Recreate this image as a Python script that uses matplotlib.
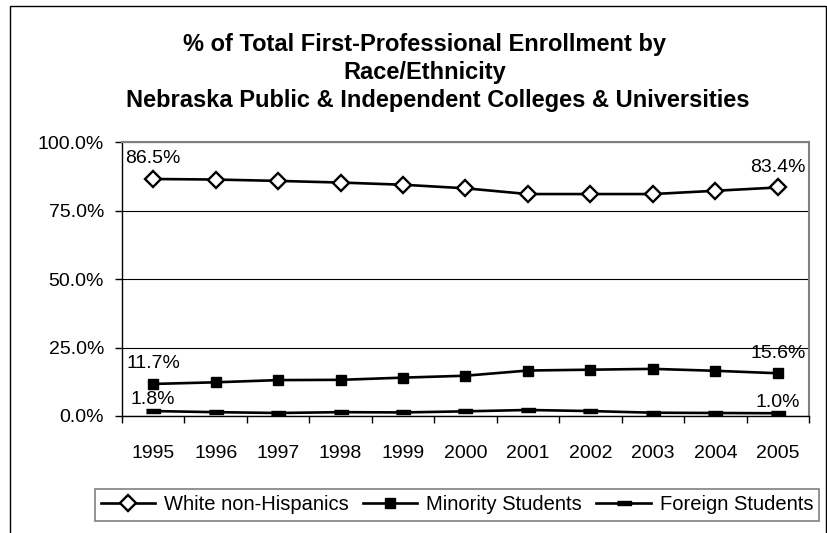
import matplotlib
matplotlib.use("Agg")
import matplotlib.pyplot as plt
from matplotlib.patches import Rectangle

plt.rcParams["font.family"] = ["Liberation Sans", "DejaVu Sans"]

years = ["1995", "1996", "1997", "1998", "1999", "2000",
         "2001", "2002", "2003", "2004", "2005"]
white = [86.5, 86.3, 85.8, 85.2, 84.4, 83.1, 81.0, 81.0, 81.0, 82.2, 83.4]
minority = [11.7, 12.3, 13.1, 13.2, 14.0, 14.7, 16.6, 16.9, 17.2, 16.5, 15.6]
foreign = [1.8, 1.4, 1.1, 1.4, 1.3, 1.7, 2.2, 1.8, 1.2, 1.1, 1.0]

title_lines = ["% of Total First-Professional Enrollment by",
               "Race/Ethnicity",
               "Nebraska Public & Independent Colleges & Universities"]

W, H = 828, 533
fig = plt.figure(figsize=(W / 100, H / 100), dpi=100)

# chart area border
fig.patches.append(Rectangle((10 / W, -0.05), 816 / W, 1 - 6 / H + 0.05,
                             transform=fig.transFigure, fill=False,
                             edgecolor="black", linewidth=1.0))

ax = fig.add_axes([122 / W, 1 - 416 / H, 687 / W, 274 / H])
x = list(range(len(years)))

dash = [(-1, -0.35), (1, -0.35), (1, 0.35), (-1, 0.35)]
ax.plot(x, white, color="black", lw=1.9, marker="D", ms=8.5,
        mfc="white", mec="black", mew=1.7, label="White non-Hispanics", zorder=3)
ax.plot(x, minority, color="black", lw=1.9, marker="s", ms=7.5,
        mfc="black", mec="black", label="Minority Students", zorder=3)
ax.plot(x, foreign, color="black", lw=1.9, marker=dash, ms=9.5,
        mfc="black", mec="black", label="Foreign Students", zorder=3)

# end-point labels (offset in points above the marker)
for s, off in ((white, 14.5), (minority, 14.5), (foreign, 8)):
    for i in (0, len(s) - 1):
        ax.annotate(f"{s[i]:.1f}%", (x[i], s[i]), xytext=(0, off),
                    textcoords="offset points", ha="center", va="center",
                    fontsize=14)

ax.set_xlim(-0.5, len(years) - 0.5)
ax.set_ylim(0, 100)
ax.set_yticks([0, 25, 50, 75, 100])
ax.set_yticklabels(["0.0%", "25.0%", "50.0%", "75.0%", "100.0%"], fontsize=14)
ax.set_xticks(x)
ax.set_xticklabels(years, fontsize=14)
ax.set_xticks([i + 0.5 for i in range(-1, len(years))], minor=True)
ax.tick_params(axis="x", which="major", length=0, pad=21)
ax.tick_params(axis="x", which="minor", length=5, width=1, direction="out")
ax.tick_params(axis="y", length=5, width=1, pad=8)
ax.yaxis.grid(True, color="black", lw=0.8)
ax.set_axisbelow(True)
for side in ("top", "right"):
    ax.spines[side].set_color("#808080")
    ax.spines[side].set_linewidth(1.5)
for side in ("left", "bottom"):
    ax.spines[side].set_linewidth(1.0)

for txt, cx, cy in zip(title_lines, (425, 425, 438), (45, 72, 100)):
    fig.text(cx / W, 1 - cy / H, txt, ha="center", va="center",
             fontsize=17, fontweight="bold")

leg = fig.legend(loc="center", bbox_to_anchor=(457 / W, 1 - 505 / H), ncol=3,
                 fontsize=14.5, handlelength=2.7, handletextpad=0.45,
                 columnspacing=0.7, frameon=True, fancybox=False,
                 borderpad=0.3)
leg.get_frame().set_edgecolor("#606060")
leg.get_frame().set_linewidth(1.2)

fig.savefig("out.png", dpi=100)
